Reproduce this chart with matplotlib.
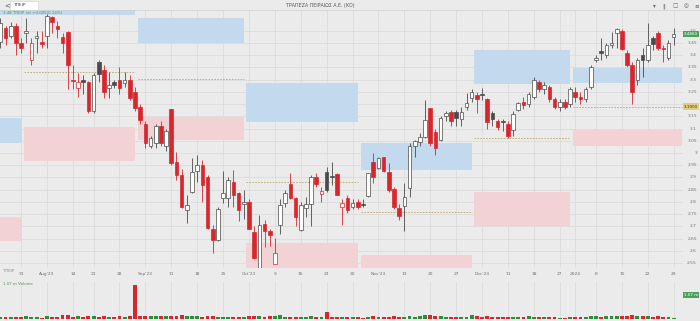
import numpy as np
import matplotlib
matplotlib.use("Agg")
import matplotlib.pyplot as plt
from matplotlib import transforms
from matplotlib.patches import Rectangle

W, H = 700, 321

# trading day index, 0 = Aug 7 2023
idx = np.arange(-9, 122)

ohlc = [
    (3.455, 3.55, 3.43, 3.53), (3.51, 3.52, 3.44, 3.47), (3.48, 3.535, 3.47, 3.52),
    (3.52, 3.53, 3.40, 3.45), (3.45, 3.47, 3.41, 3.43), (3.49, 3.55, 3.45, 3.50),
    (3.38, 3.47, 3.36, 3.45), (3.47, 3.50, 3.41, 3.48), (3.452, 3.50, 3.43, 3.445),
    (3.48, 3.57, 3.43, 3.56), (3.555, 3.56, 3.49, 3.535), (3.52, 3.54, 3.47, 3.505),
    (3.475, 3.49, 3.41, 3.45), (3.495, 3.50, 3.26, 3.36), (3.30, 3.36, 3.26, 3.295),
    (3.264, 3.327, 3.23, 3.29), (3.297, 3.32, 3.24, 3.292), (3.29, 3.295, 3.165, 3.17),
    (3.17, 3.325, 3.165, 3.32), (3.37, 3.38, 3.29, 3.322), (3.34, 3.36, 3.225, 3.25),
    (3.265, 3.33, 3.225, 3.278), (3.29, 3.30, 3.265, 3.28), (3.30, 3.35, 3.24, 3.265),
    (3.285, 3.33, 3.27, 3.30), (3.30, 3.32, 3.215, 3.225), (3.25, 3.27, 3.17, 3.185),
    (3.19, 3.20, 3.12, 3.135), (3.12, 3.13, 3.02, 3.04), (3.03, 3.07, 3.02, 3.06),
    (3.04, 3.12, 3.02, 3.11), (3.11, 3.13, 3.03, 3.04), (3.03, 3.10, 3.01, 3.09),
    (3.18, 3.18, 2.95, 2.96), (2.965, 3.005, 2.89, 2.91), (2.91, 2.935, 2.775, 2.78),
    (2.765, 2.83, 2.715, 2.787), (2.842, 2.98, 2.835, 2.924), (2.925, 2.99, 2.88, 2.95),
    (2.95, 2.97, 2.80, 2.87), (2.90, 2.91, 2.69, 2.692), (2.69, 2.705, 2.59, 2.645),
    (2.645, 2.78, 2.64, 2.77), (2.815, 2.925, 2.795, 2.835), (2.815, 2.90, 2.78, 2.89),
    (2.88, 2.93, 2.78, 2.83), (2.835, 2.84, 2.72, 2.765), (2.79, 2.85, 2.73, 2.80),
    (2.80, 2.81, 2.69, 2.69), (2.675, 2.70, 2.565, 2.57), (2.53, 2.746, 2.515, 2.705),
    (2.71, 2.726, 2.617, 2.68), (2.68, 2.69, 2.62, 2.665), (2.546, 2.652, 2.546, 2.592),
    (2.706, 2.81, 2.67, 2.787), (2.795, 2.85, 2.78, 2.835), (2.873, 2.917, 2.81, 2.815),
    (2.815, 2.82, 2.70, 2.74), (2.687, 2.80, 2.68, 2.787), (2.775, 2.82, 2.74, 2.79),
    (2.79, 2.91, 2.70, 2.90), (2.90, 2.92, 2.862, 2.875), (2.833, 2.86, 2.80, 2.846),
    (2.924, 2.944, 2.842, 2.85), (2.905, 2.965, 2.87, 2.90), (2.915, 2.92, 2.828, 2.83),
    (2.778, 2.81, 2.706, 2.797), (2.818, 2.83, 2.755, 2.767), (2.78, 2.81, 2.77, 2.795),
    (2.80, 2.81, 2.77, 2.78), (2.792, 2.81, 2.78, 2.789), (2.824, 2.92, 2.82, 2.917),
    (2.965, 3.00, 2.876, 2.90), (2.94, 2.985, 2.935, 2.98), (2.982, 2.985, 2.924, 2.925),
    (2.924, 2.96, 2.84, 2.85), (2.853, 2.86, 2.77, 2.78), (2.774, 2.79, 2.726, 2.742),
    (2.783, 2.876, 2.68, 2.82), (2.857, 3.04, 2.82, 3.03), (3.03, 3.053, 2.985, 3.05),
    (3.045, 3.08, 3.03, 3.064), (3.064, 3.217, 3.06, 3.135), (3.183, 3.183, 3.03, 3.04),
    (3.087, 3.10, 2.99, 3.02), (3.053, 3.15, 3.05, 3.142), (3.15, 3.17, 3.13, 3.162),
    (3.169, 3.175, 3.11, 3.13), (3.169, 3.175, 3.11, 3.142), (3.138, 3.19, 3.11, 3.169),
    (3.19, 3.245, 3.176, 3.203), (3.224, 3.26, 3.21, 3.25), (3.237, 3.25, 3.162, 3.22),
    (3.242, 3.265, 3.217, 3.238), (3.22, 3.225, 3.10, 3.128), (3.162, 3.17, 3.11, 3.14),
    (3.132, 3.14, 3.095, 3.108), (3.13, 3.14, 3.09, 3.125), (3.12, 3.13, 3.06, 3.068),
    (3.095, 3.17, 3.07, 3.159), (3.176, 3.21, 3.17, 3.203), (3.21, 3.23, 3.18, 3.195),
    (3.20, 3.25, 3.19, 3.24), (3.23, 3.31, 3.22, 3.30), (3.29, 3.30, 3.25, 3.26),
    (3.26, 3.29, 3.24, 3.28), (3.27, 3.28, 3.21, 3.22), (3.22, 3.23, 3.18, 3.19),
    (3.19, 3.22, 3.17, 3.21), (3.21, 3.22, 3.18, 3.19), (3.20, 3.27, 3.19, 3.26),
    (3.25, 3.27, 3.21, 3.23), (3.23, 3.25, 3.20, 3.22), (3.22, 3.27, 3.21, 3.26),
    (3.27, 3.36, 3.26, 3.35), (3.38, 3.40, 3.37, 3.39), (3.415, 3.47, 3.38, 3.41),
    (3.40, 3.45, 3.39, 3.44), (3.44, 3.495, 3.43, 3.45), (3.49, 3.51, 3.43, 3.505),
    (3.50, 3.505, 3.42, 3.425), (3.41, 3.42, 3.35, 3.36), (3.36, 3.37, 3.20, 3.25),
    (3.30, 3.39, 3.28, 3.38), (3.40, 3.43, 3.31, 3.38), (3.38, 3.53, 3.37, 3.44),
    (3.47, 3.48, 3.42, 3.445), (3.49, 3.50, 3.42, 3.43), (3.43, 3.44, 3.37, 3.425),
    (3.39, 3.46, 3.38, 3.45), (3.474, 3.51, 3.44, 3.486),
]

volume = [
    2.0, 1.6, 1.8, 2.2, 1.9, 3.0, 1.5, 2.0, 1.4,
    3.0, 2.0, 1.8, 3.5, 4.0, 2.2, 2.5, 2.0, 3.0, 2.5,
    2.2, 2.8, 1.8, 1.6, 2.4, 2.0, 2.6, 30.0, 3.0, 2.8,
    2.5, 2.4, 2.6, 2.5, 3.0, 2.6, 4.0, 3.0, 3.2, 2.4,
    2.0, 3.0, 2.6, 2.2, 1.8, 2.0, 1.8, 1.6, 1.5, 2.4,
    2.8, 2.6, 2.2, 3.0, 2.4, 4.0, 2.2, 2.0, 1.8, 2.0,
    1.6, 2.4, 1.8, 1.6, 6.5, 2.2, 1.8, 1.6, 2.0, 1.6,
    1.5, 1.4, 2.2, 2.4, 1.8, 2.0, 2.2, 2.4, 2.0, 2.2,
    3.0, 2.0, 2.4, 4.0, 3.4, 2.6, 2.4, 2.0, 2.2, 1.8,
    2.0, 2.2, 4.0, 2.4, 1.8, 2.6, 2.0, 1.8, 1.6, 2.0,
    2.2, 2.0, 1.8, 2.4, 2.0, 1.6, 1.8, 2.2, 1.6, 1.4,
    1.2, 1.6, 1.8, 1.6, 2.0, 2.6, 2.4, 2.2, 2.4, 2.8,
    2.4, 3.0, 3.2, 4.0, 2.6, 2.4, 2.8, 2.2, 2.4, 2.0,
    2.2, 1.4,
]

tick_idx = [-5, 0, 5, 9, 14, 19, 24, 29, 34, 39, 44, 49, 54, 59, 64, 69, 74, 79,
            84, 89, 94, 99, 102, 106, 111, 116, 121]
tick_lbl = ["31", "Aug'23", "14", "21", "28", "Sep'23", "11", "18", "25", "Oct'23",
            "9", "16", "23", "30", "Nov'23", "13", "20", "27", "Dec'23", "11", "18",
            "27", "2024", "8", "15", "22", "29"]

price_ticks = [3.5, 3.45, 3.4, 3.35, 3.3, 3.25, 3.2, 3.15, 3.1, 3.05, 3.0, 2.95,
               2.9, 2.85, 2.8, 2.75, 2.7, 2.65, 2.6, 2.55]

# zones: (start idx, end idx, low, high)
blue_zones = [(-9.1, 17.0, 3.564, 3.60), (17.6, 38.0, 3.45, 3.552), (-9.1, -4.8, 3.041, 3.143),
              (38.4, 60.0, 3.127, 3.286), (60.6, 82.0, 2.931, 3.041), (82.4, 101.0, 3.282, 3.421),
              (101.5, 122.6, 3.286, 3.348)]
pink_zones = [(-4.4, 17.0, 2.967, 3.106), (17.6, 38.0, 3.053, 3.147), (-9.1, -4.8, 2.64, 2.738),
              (38.4, 60.0, 2.50, 2.632), (60.6, 82.0, 2.50, 2.583), (82.4, 101.0, 2.70, 2.84),
              (101.5, 122.6, 3.029, 3.094)]
mid_lines = [(-4.4, 17.0, 3.331), (17.6, 38.0, 3.303), (38.4, 60.0, 2.882),
             (60.6, 82.0, 2.757), (82.4, 101.0, 3.061), (101.5, 122.6, 3.19)]

last_price = 3.486
level_price = 3.19

RED = "#d8262d"
DARK = "#4a4a4a"
GREEN = "#2f8a3c"
BG = "#ebebeb"

fig = plt.figure(figsize=(7, 3.21), dpi=100)
fig.patch.set_facecolor(BG)


def rect(x0, y0, x1, y1):
    return [x0 / W, 1 - y1 / H, (x1 - x0) / W, (y1 - y0) / H]


ax = fig.add_axes(rect(0, 10, 683, 268))
axv = fig.add_axes(rect(0, 282, 683, 320), sharex=ax)
for a in (ax, axv):
    a.set_facecolor(BG)
    for s in a.spines.values():
        s.set_visible(False)
    a.tick_params(length=0)
    for t in tick_idx:
        a.axvline(t, color="#d9d9d9", lw=0.5, zorder=0)

ax.set_xlim(-9.07, 122.8)
ax.set_ylim(2.5298, 3.5846)
for p in price_ticks:
    ax.axhline(p, color="#d9d9d9", lw=0.5, zorder=0)

for x0, x1, lo, hi in blue_zones:
    ax.add_patch(Rectangle((x0, lo), x1 - x0, hi - lo, color="#c3d9ee", lw=0, zorder=1))
for x0, x1, lo, hi in pink_zones:
    ax.add_patch(Rectangle((x0, lo), x1 - x0, hi - lo, color="#f3d2d5", lw=0, zorder=1))
for x0, x1, y in mid_lines:
    ax.plot([x0, x1], [y, y], color="#b9a86e", lw=0.6, dashes=(2, 1.5), zorder=1.5)

o = np.array([r[0] for r in ohlc])
h = np.array([r[1] for r in ohlc])
l = np.array([r[2] for r in ohlc])
c = np.array([r[3] for r in ohlc])
pc = np.concatenate([[o[0]], c[:-1]])

edge = [RED if c[i] < pc[i] else DARK for i in range(len(c))]
face = [edge[i] if c[i] < o[i] else "white" for i in range(len(c))]
bottom = np.minimum(o, c)
height = np.maximum(np.abs(c - o), 0.004)

ax.vlines(idx, l, h, colors=edge, lw=0.6, zorder=2)
ax.bar(idx, height, bottom=bottom, width=0.7, color=face, edgecolor=edge, linewidth=0.5, zorder=3)

ax.set_yticks([])
ax.set_xticks(tick_idx)
ax.set_xticklabels(tick_lbl, fontsize=3.2, color="#707070")
ax.tick_params(axis="x", pad=3)

trans = transforms.blended_transform_factory(fig.transFigure, ax.transData)
for p in price_ticks:
    if abs(p - level_price) < 0.02:
        continue  # hidden behind the level label
    ax.text(697 / W, p, f"{p:g}", transform=trans, ha="right", va="center",
            fontsize=3.2, color="#707070", clip_on=False)
ax.text(698 / W, last_price, "3.4860", transform=trans, ha="right", va="center",
        fontsize=3.0, color="white", clip_on=False,
        bbox=dict(boxstyle="square,pad=0.25", fc="#4aa35a", ec="none"))
ax.text(698 / W, level_price, "3.1900", transform=trans, ha="right", va="center",
        fontsize=3.0, color="#333333", clip_on=False,
        bbox=dict(boxstyle="square,pad=0.25", fc="#e3cf7a", ec="none"))

# volume pane
vcol = [GREEN if c[i] >= o[i] else RED for i in range(len(c))]
axv.bar(idx, volume, width=0.75, color=vcol, zorder=2)
axv.set_ylim(-0.8, 33)
axv.axhline(-0.4, color=RED, lw=0.5, dashes=(2, 1.5), zorder=1)
axv.set_yticks([])
axv.tick_params(axis="x", labelbottom=False)
axv.text(698 / W, 0.08, "1.07 m", transform=fig.transFigure, ha="right", va="center",
         fontsize=3.0, color="white",
         bbox=dict(boxstyle="square,pad=0.25", fc="#4aa35a", ec="none"))

# header
fig.add_artist(plt.Line2D([0, 1], [1 - 10 / H, 1 - 10 / H], color="#d0d0d0", lw=0.5))
fig.text(4 / W, 1 - 5 / H, "<", fontsize=5, color="#555555", va="center")
fig.patches.append(Rectangle((10 / W, 1 - 10 / H), 28 / W, 9 / H, transform=fig.transFigure,
                             fc="white", ec="#cccccc", lw=0.4))
fig.text(13 / W, 1 - 5.5 / H, "ΤΠΕΙΡ", fontsize=3.2, color="#444444", va="center")
fig.text(320 / W, 1 - 6 / H, "ΤΡΑΠΕΖΑ ΠΕΙΡΑΙΩΣ Α.Ε. (ΚΟ)", fontsize=3.4, color="#555555",
         ha="center", va="center")
for x, s in [(654, "▾"), (664, "‖"), (675, "▢"), (686, "◎"), (697, "≡")]:
    fig.text(x / W, 1 - 6 / H, s, fontsize=4, color="#666666", ha="center", va="center")
fig.text(3 / W, 1 - 13 / H, "3.48 ΤΠΕΙΡ (d) +0.005(0.14%)", fontsize=2.8, color="#3d9a4c",
         va="center")
fig.text(3 / W, 1 - 271 / H, "ΤΠΕΙΡ", fontsize=2.8, color="#8a8a8a", va="center")
fig.text(3 / W, 1 - 284 / H, "1.07 m Volume", fontsize=2.8, color="#5a8a5a", va="center")

plt.savefig("out.png", dpi=100, facecolor=BG)
